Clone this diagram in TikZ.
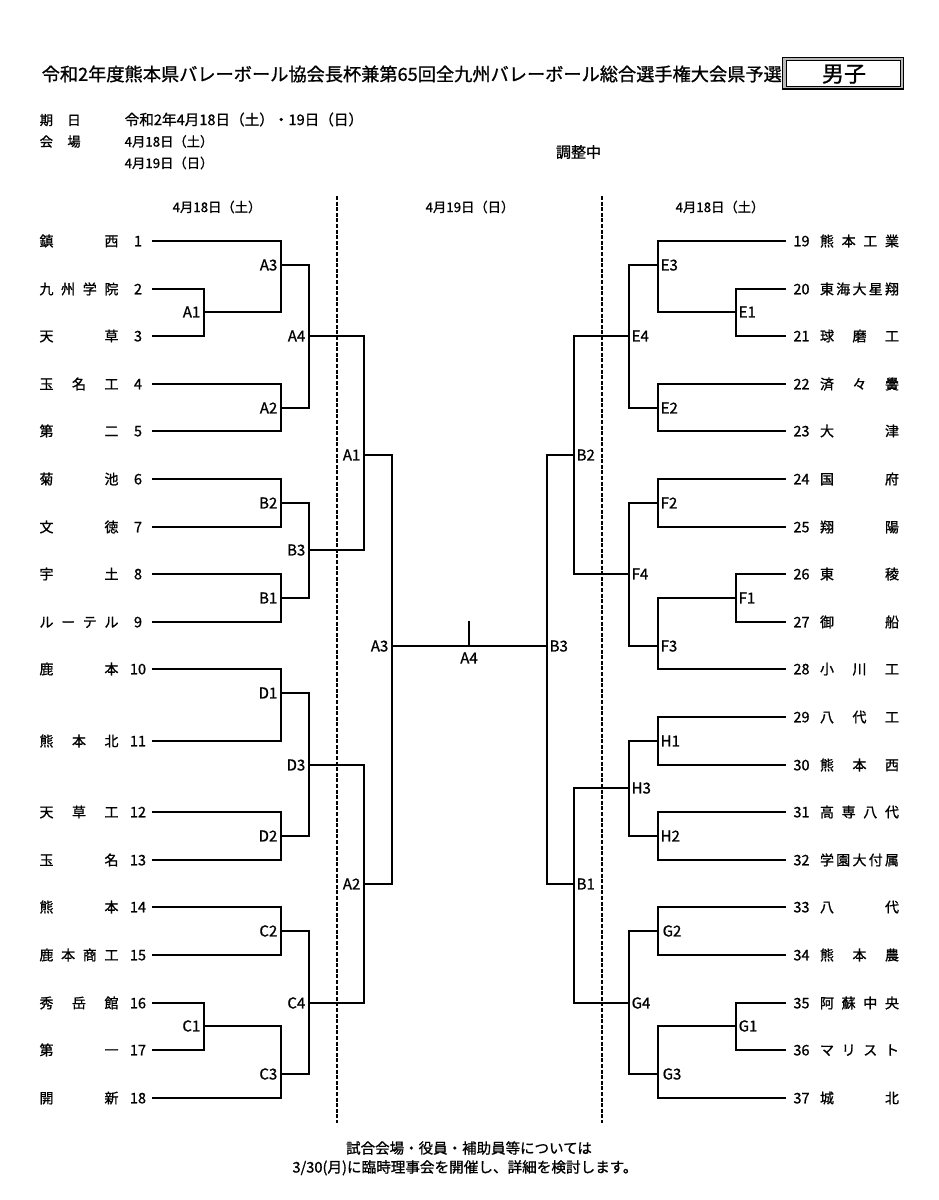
\documentclass[tikz,border=0pt]{standalone}
\usepackage{fontspec}
\setmainfont{Noto Sans CJK JP}[FakeBold=1.0]
\begin{document}
\begin{tikzpicture}[x=1pt,y=-1pt,
  declare function={ry(\k)=round(241+47.6*\k);},
  br/.style={line width=2pt, line cap=rect, line join=miter},
  dl/.style={line width=1.4pt, dash pattern=on 4pt off 1.6pt},
  txt/.style={inner sep=0pt, font=\fontsize{14}{14}\selectfont, text height=10.6pt, text depth=0pt},
  num/.style={inner sep=0pt, font=\fontsize{14.5}{14.5}\selectfont, text height=10.6pt, text depth=0pt},
  lab/.style={inner sep=0pt, font=\fontsize{15}{15}\selectfont, text height=10.9pt, text depth=0pt},
  hdr/.style={inner sep=0pt, font=\fontsize{13.3}{13.3}\selectfont, text height=10.1pt, text depth=0pt}]
\useasboundingbox (0,0) rectangle (939,1200);
\fill[white] (0,0) rectangle (939,1200);

% title
\node[inner sep=0pt, anchor=west, font=\fontsize{18.2}{18.2}\selectfont, text height=13.8pt, text depth=0pt] (title) at (41.5,74) {令和2年度熊本県バレーボール協会長杯兼第65回全九州バレーボール総合選手権大会県予選};
\draw[line width=1.2pt, fill=gray!55] (782.5,57.5) rectangle (903.5,89);
\draw[line width=0.8pt, fill=white] (786,60.5) rectangle (900,86);
\node[inner sep=0pt, font=\fontsize{22}{22}\selectfont, text height=16.7pt, text depth=0pt] (sex) at (844,73.5) {男子};

% details
\node[hdr, anchor=west] (k1) at (39.5,120) {\hbox to 41pt{期\hfill 日}};
\node[hdr, anchor=west] (k2) at (39.5,141.5) {\hbox to 41pt{会\hfill 場}};
\node[hdr, anchor=west, font=\fontsize{14.6}{14.6}\selectfont] (d1) at (124.5,120) {令和2年4月18日（土）・19日（日）};
\node[hdr, anchor=west] (d2) at (124.5,141.5) {4月18日（土）};
\node[hdr, anchor=west] (d3) at (124.5,163) {4月19日（日）};
\node[inner sep=0pt, font=\fontsize{15}{15}\selectfont, text height=11.4pt, text depth=0pt] (chosei) at (578.5,152) {調整中};

% day headers
\node[hdr] (h1) at (217,207) {4月18日（土）};
\node[hdr] (h2) at (470,207) {4月19日（日）};
\node[hdr] (h3) at (720,207) {4月18日（土）};

% dashed separators
\coordinate (dla) at (337,196);
\coordinate (dlb) at (337,1123);
\coordinate (dra) at (602,196);
\coordinate (drb) at (602,1123);
\draw[dl] (dla) -- (dlb);
\draw[dl] (dra) -- (drb);

% left teams
\foreach \n/\k/\nm in {1/0/{鎮\hfill 西},2/1/{九\hfill 州\hfill 学\hfill 院},3/2/{天\hfill 草},4/3/{玉\hfill 名\hfill 工},5/4/{第\hfill 二},6/5/{菊\hfill 池},7/6/{文\hfill 徳},8/7/{宇\hfill 土},9/8/{ル\hfill ー\hfill テ\hfill ル},10/9/{鹿\hfill 本},11/10.5/{熊\hfill 本\hfill 北},12/12/{天\hfill 草\hfill 工},13/13/{玉\hfill 名},14/14/{熊\hfill 本},15/15/{鹿\hfill 本\hfill 商\hfill 工},16/16/{秀\hfill 岳\hfill 館},17/17/{第\hfill 一},18/18/{開\hfill 新}}{
  \node[txt] (n\n) at (79,{ry(\k)}) {\hbox to 79pt{\nm}};
  \node[num] (t\n) at (138,{ry(\k)}) {\n};
  \coordinate (s\n) at (153,{ry(\k)});
}
% right teams
\foreach \n/\k/\nm in {19/0/{熊\hfill 本\hfill 工\hfill 業},20/1/{東\hfill 海\hfill 大\hfill 星\hfill 翔},21/2/{球\hfill 磨\hfill 工},22/3/{済\hfill 々\hfill 黌},23/4/{大\hfill 津},24/5/{国\hfill 府},25/6/{翔\hfill 陽},26/7/{東\hfill 稜},27/8/{御\hfill 船},28/9/{小\hfill 川\hfill 工},29/10/{八\hfill 代\hfill 工},30/11/{熊\hfill 本\hfill 西},31/12/{高\hfill 専\hfill 八\hfill 代},32/13/{学\hfill 園\hfill 大\hfill 付\hfill 属},33/14/{八\hfill 代},34/15/{熊\hfill 本\hfill 農},35/16/{阿\hfill 蘇\hfill 中\hfill 央},36/17/{マ\hfill リ\hfill ス\hfill ト},37/18/{城\hfill 北}}{
  \node[txt] (n\n) at (859.5,{ry(\k)}) {\hbox to 79pt{\nm}};
  \node[num] (t\n) at (801.5,{ry(\k)}) {\n};
  \coordinate (s\n) at (785,{ry(\k)});
}

% left match points
\coordinate (LA1) at (204,{ry(1.5)});
\coordinate (LA3) at (281,{ry(0.5)});
\coordinate (LA2) at (281,{ry(3.5)});
\coordinate (LA4) at (309,{ry(2)});
\coordinate (LB2) at (281,{ry(5.5)});
\coordinate (LB1) at (281,{ry(7.5)});
\coordinate (LB3) at (309,{ry(6.5)});
\coordinate (LA1b) at (364,{ry(4.5)});
\coordinate (LD1) at (281,{ry(9.5)});
\coordinate (LD2) at (281,{ry(12.5)});
\coordinate (LD3) at (309,{ry(11)});
\coordinate (LC2) at (281,{ry(14.5)});
\coordinate (LC1) at (204,{ry(16.5)});
\coordinate (LC3) at (281,{ry(17.5)});
\coordinate (LC4) at (309,{ry(16)});
\coordinate (LA2b) at (364,{ry(13.5)});
\coordinate (LA3b) at (392,{ry(8.5)});
% right match points
\coordinate (RE1) at (736,{ry(1.5)});
\coordinate (RE3) at (658,{ry(0.5)});
\coordinate (RE2) at (658,{ry(3.5)});
\coordinate (RE4) at (629,{ry(2)});
\coordinate (RF2) at (658,{ry(5.5)});
\coordinate (RF1) at (736,{ry(7.5)});
\coordinate (RF3) at (658,{ry(8.5)});
\coordinate (RF4) at (629,{ry(7)});
\coordinate (RB2) at (574,{ry(4.5)});
\coordinate (RH1) at (658,{ry(10.5)});
\coordinate (RH2) at (658,{ry(12.5)});
\coordinate (RH3) at (629,{ry(11.5)});
\coordinate (RG2) at (658,{ry(14.5)});
\coordinate (RG1) at (736,{ry(16.5)});
\coordinate (RG3) at (658,{ry(17.5)});
\coordinate (RG4) at (629,{ry(16)});
\coordinate (RB1) at (574,{ry(13.5)});
\coordinate (RB3) at (547,{ry(8.5)});

% bracket lines
\foreach \m/\a/\b in {LA1/s2/s3, LA3/s1/LA1, LA2/s4/s5, LA4/LA3/LA2, LB2/s6/s7, LB1/s8/s9, LB3/LB2/LB1, LA1b/LA4/LB3, LD1/s10/s11, LD2/s12/s13, LD3/LD1/LD2, LC2/s14/s15, LC1/s16/s17, LC3/LC1/s18, LC4/LC2/LC3, LA2b/LD3/LC4, LA3b/LA1b/LA2b, RE1/s20/s21, RE3/s19/RE1, RE2/s22/s23, RE4/RE3/RE2, RF2/s24/s25, RF1/s26/s27, RF3/RF1/s28, RF4/RF2/RF3, RB2/RE4/RF4, RH1/s29/s30, RH2/s31/s32, RH3/RH1/RH2, RG2/s33/s34, RG1/s35/s36, RG3/RG1/s37, RG4/RG2/RG3, RB1/RH3/RG4, RB3/RB2/RB1}{
  \draw[br] (\a) -| (\m) |- (\b);
}
\draw[br] (LA3b) -- (RB3);
\coordinate (tk) at (469,{ry(8.5)});
\coordinate (tkt) at (469,622);
\draw[br] (tk) -- (tkt);

% match labels
\foreach \c/\t in {LA1/A1, LA3/A3, LA2/A2, LA4/A4, LB2/B2, LB1/B1, LB3/B3, LA1b/A1, LD1/D1, LD2/D2, LD3/D3, LC2/C2, LC1/C1, LC3/C3, LC4/C4, LA2b/A2, LA3b/A3}{
  \node[lab, anchor=east] (lb\c) at ([xshift=-3.5pt]\c) {\t};
}
\foreach \c/\t in {RE1/E1, RE3/E3, RE2/E2, RE4/E4, RF2/F2, RF1/F1, RF3/F3, RF4/F4, RB2/B2, RH1/H1, RH2/H2, RH3/H3, RG1/G1, RG4/G4, RB1/B1, RB3/B3}{
  \node[lab, anchor=west] (lb\c) at ([xshift=2.5pt]\c) {\t};
}
\foreach \c/\t in {RG2/G2, RG3/G3}{
  \node[lab, anchor=west] (lb\c) at ([xshift=4.5pt]\c) {\t};
}
\node[lab] (lbA4) at (469,658) {A4};

% footnote
\node[inner sep=0pt, font=\fontsize{14.5}{14.5}\selectfont, text height=11pt, text depth=0pt] (f1) at (469,1148) {試合会場・役員・補助員等については};
\node[inner sep=0pt, font=\fontsize{14.6}{14.6}\selectfont, text height=11pt, text depth=0pt] (f2) at (465,1167) {3/30(月)に臨時理事会を開催し、詳細を検討します。};
\end{tikzpicture}
\end{document}
